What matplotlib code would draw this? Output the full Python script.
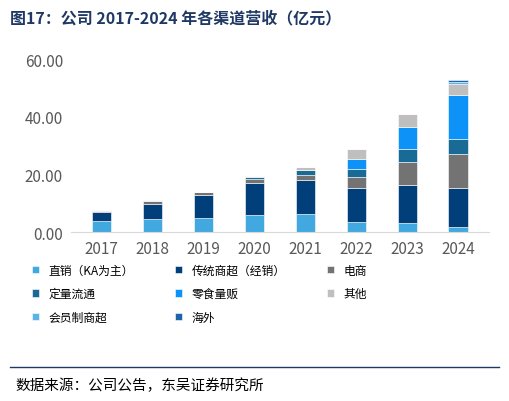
import matplotlib
matplotlib.use("Agg")
import numpy as np
from matplotlib import pyplot as plt

plt.rcParams["font.family"] = ["Noto Sans CJK SC", "DejaVu Sans"]

years = ["2017", "2018", "2019", "2020", "2021", "2022", "2023", "2024"]
direct = [3.9, 4.5, 4.9, 6.1, 6.4, 3.5, 3.3, 1.9]
traditional = [3.1, 5.4, 8.0, 10.9, 11.8, 11.7, 13.0, 13.4]
ecommerce = [0.5, 0.9, 0.9, 1.3, 1.6, 4.1, 8.2, 11.7]
fixed = [0.0, 0.0, 0.0, 1.0, 1.7, 2.7, 4.3, 5.2]
snack = [0.0, 0.0, 0.0, 0.0, 0.0, 3.3, 7.8, 15.4]
other = [0.3, 0.3, 0.3, 0.3, 1.1, 3.5, 4.5, 3.8]
member = [0, 0, 0, 0, 0, 0, 0, 0.8]
overseas = [0, 0, 0, 0, 0, 0, 0, 0.6]

series = [
    ("直销（KA为主）", direct, "#41A8E0"),
    ("传统商超（经销）", traditional, "#003F7A"),
    ("电商", ecommerce, "#737373"),
    ("定量流通", fixed, "#1A6A96"),
    ("零食量贩", snack, "#0D92F7"),
    ("其他", other, "#BFBFBF"),
    ("会员制商超", member, "#5AB4E8"),
    ("海外", overseas, "#1F64A8"),
]

fig = plt.figure(figsize=(5.09, 4.02), dpi=100)
ax = fig.add_axes([0.14, 0.42, 0.82, 0.43])
x = np.arange(len(years))
bottom = np.zeros(len(years))
for name, vals, color in series:
    ax.bar(x, vals, 0.38, bottom=bottom, color=color, label=name,
           edgecolor="white", linewidth=0.4)
    bottom += np.array(vals)

ax.set_ylim(0, 60)
ax.set_yticks([0, 20, 40, 60])
ax.set_yticklabels(["0.00", "20.00", "40.00", "60.00"])
ax.set_xticks(x)
ax.set_xticklabels(years)
ax.set_xlim(-0.6, 7.6)
ax.tick_params(length=0, labelsize=11, colors="#595959", pad=6)
for s in ["top", "right", "left"]:
    ax.spines[s].set_visible(False)
ax.spines["bottom"].set_color("#D9D9D9")

# legend fills column-wise; reorder so rows read like the reference
handles, labels = ax.get_legend_handles_labels()
order = [0, 3, 6, 1, 4, 7, 2, 5]
ax.legend([handles[i] for i in order], [labels[i] for i in order],
          loc="upper left", bbox_to_anchor=(-0.12, -0.12), ncol=3,
          frameon=False, fontsize=8.5, handlelength=0.6, handleheight=0.6,
          columnspacing=3.5, labelspacing=0.9)

fig.text(0.02, 0.955, "图17：公司 2017-2024 年各渠道营收（亿元）", fontsize=11.5,
         fontweight="bold", color="#1F3864", va="center")
fig.add_artist(plt.Line2D([0.02, 0.98], [0.085, 0.085], color="#1F3864", lw=1))
fig.text(0.03, 0.04, "数据来源：公司公告，东吴证券研究所", fontsize=10.5,
         color="black", va="center")

fig.savefig("out.png", dpi=100)
